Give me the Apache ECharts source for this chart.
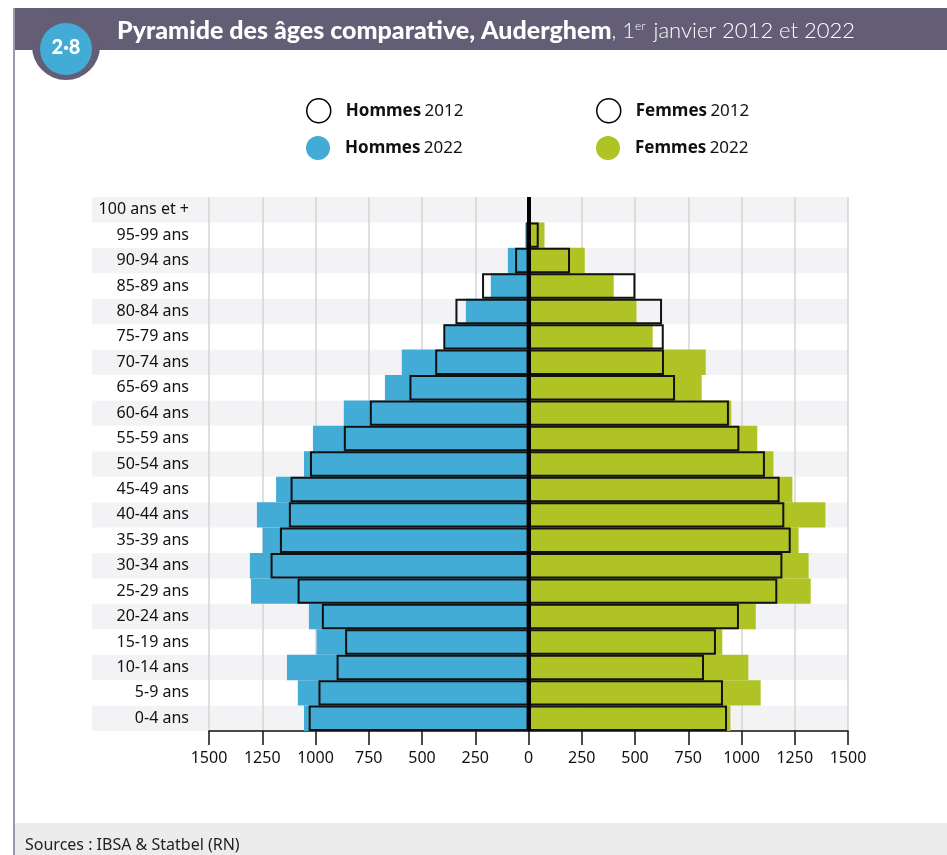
<!DOCTYPE html>
<html>
<head>
<meta charset="utf-8">
<script src="https://cdn.jsdelivr.net/npm/echarts@6/dist/echarts.min.js"></script>
<style>
  html, body { margin: 0; padding: 0; background: #fff; }
  #main { width: 947px; height: 855px; }
</style>
</head>
<body>
<div id="main"></div>
<script>
// tranches d'âge, du bas vers le haut
var ages = ['0-4 ans', '5-9 ans', '10-14 ans', '15-19 ans', '20-24 ans', '25-29 ans', '30-34 ans',
  '35-39 ans', '40-44 ans', '45-49 ans', '50-54 ans', '55-59 ans', '60-64 ans', '65-69 ans',
  '70-74 ans', '75-79 ans', '80-84 ans', '85-89 ans', '90-94 ans', '95-99 ans', '100 ans et +'];

var hommes2022 = [1054, 1083, 1134, 995, 1031, 1303, 1308, 1248, 1275, 1185, 1054, 1012, 867, 674, 595, 396, 294, 177, 97, 15, 2];
var hommes2012 = [1032, 986, 901, 861, 970, 1084, 1211, 1167, 1125, 1117, 1026, 867, 745, 559, 438, 400, 343, 218, 63, 10, 1];
var femmes2022 = [948, 1090, 1032, 910, 1067, 1325, 1315, 1268, 1394, 1239, 1150, 1074, 952, 813, 832, 583, 507, 400, 264, 75, 9];
var femmes2012 = [932, 913, 824, 880, 988, 1168, 1192, 1231, 1201, 1179, 1110, 990, 941, 688, 636, 635, 627, 502, 195, 48, 7];

var xTicks = { min: -1500, max: 1500, interval: 250 };

var font = 'Noto Sans';
var myChart = echarts.init(document.getElementById('main'));

function legendItem(name, left, top, outline, color) {
  return {
    left: left,
    top: top,
    padding: 0,
    itemWidth: 24,
    itemHeight: 24,
    selectedMode: false,
    data: [{
      name: name,
      icon: 'circle',
      itemStyle: outline ? { color: '#fff', borderColor: '#000', borderWidth: 1.5 } : { color: color, borderWidth: 0 }
    }],
    formatter: function (n) {
      var p = n.split(' ');
      return '{b|' + p[0] + '} {n|' + p[1] + '}';
    },
    textStyle: {
      rich: {
        b: { fontFamily: font, fontWeight: 'bold', fontSize: 17, color: '#111', padding: [0, 0, 0, 10] },
        n: { fontFamily: font, fontSize: 17, color: '#111' }
      }
    }
  };
}

var option = {
  animation: false,
  backgroundColor: '#fff',
  legend: [
    legendItem('Hommes 2012', 306, 98, true),
    legendItem('Femmes 2012', 596, 98, true),
    legendItem('Hommes 2022', 306, 136, false, '#42acd6'),
    legendItem('Femmes 2022', 596, 136, false, '#afc424')
  ],
  grid: [
    // fond rayé, labels compris
    { left: 92, right: 99, top: 197, bottom: 124 },
    { left: 209, right: 99, top: 197, bottom: 124 }
  ],
  xAxis: [
    { gridIndex: 0, type: 'value', min: 0, max: 1, show: false },
    {
      gridIndex: 1,
      type: 'value',
      min: xTicks.min,
      max: xTicks.max,
      interval: xTicks.interval,
      axisLine: { show: true, lineStyle: { color: '#111', width: 1.5 } },
      axisTick: { show: true, length: 14, lineStyle: { color: '#111', width: 1.5 } },
      axisLabel: {
        fontFamily: font, fontSize: 16, color: '#111', margin: 19,
        formatter: function (v) { return Math.abs(v); }
      },
      splitLine: { show: true, lineStyle: { color: '#d4d4d4', width: 1.5 } }
    }
  ],
  yAxis: [
    {
      gridIndex: 0, type: 'category', data: ages, z: 0,
      axisLine: { show: false }, axisTick: { show: false }, axisLabel: { show: false },
      splitLine: { show: false },
      splitArea: { show: true, areaStyle: { color: ['#f3f3f5', '#ffffff'] } }
    },
    {
      gridIndex: 1, type: 'category', data: ages,
      axisLine: { show: false }, axisTick: { show: false },
      axisLabel: { fontFamily: font, fontSize: 16, color: '#111', margin: 20 },
      splitLine: { show: false }
    }
  ],
  series: [
    {
      name: 'Hommes 2022', type: 'bar', xAxisIndex: 1, yAxisIndex: 1,
      data: hommes2022.map(function (v) { return -v; }),
      barGap: '-100%', barCategoryGap: '0%',
      itemStyle: { color: '#42acd6' }
    },
    {
      name: 'Femmes 2022', type: 'bar', xAxisIndex: 1, yAxisIndex: 1,
      data: femmes2022,
      barGap: '-100%', barCategoryGap: '0%',
      itemStyle: { color: '#afc424' }
    },
    {
      name: 'Hommes 2012', type: 'bar', xAxisIndex: 1, yAxisIndex: 1,
      data: hommes2012.map(function (v) { return -v; }),
      barGap: '-100%', barCategoryGap: '0%',
      itemStyle: { color: 'rgba(0,0,0,0)', borderColor: '#111', borderWidth: 2 }
    },
    {
      name: 'Femmes 2012', type: 'bar', xAxisIndex: 1, yAxisIndex: 1,
      data: femmes2012,
      barGap: '-100%', barCategoryGap: '0%',
      itemStyle: { color: 'rgba(0,0,0,0)', borderColor: '#111', borderWidth: 2 },
      markLine: {
        silent: true,
        symbol: 'none',
        label: { show: false },
        lineStyle: { color: '#000', width: 4, type: 'solid' },
        data: [{ xAxis: 0 }]
      }
    }
  ],
  graphic: [
    // bandeau du titre
    { type: 'rect', shape: { x: 13, y: 8, width: 934, height: 42 }, style: { fill: '#635e75' } },
    { type: 'line', shape: { x1: 14, y1: 8, x2: 14, y2: 855 }, style: { stroke: '#9c99aa', lineWidth: 2 } },
    { type: 'circle', shape: { cx: 66, cy: 46, r: 34 }, style: { fill: '#635e75' } },
    { type: 'circle', shape: { cx: 66, cy: 49, r: 26 }, style: { fill: '#42acd6' } },
    {
      type: 'text', x: 66, y: 48,
      style: {
        text: '2·8', fill: '#fff', fontFamily: 'Lato', fontWeight: 900, fontSize: 20,
        align: 'center', verticalAlign: 'middle'
      }
    },
    {
      type: 'text', x: 117, y: 31,
      style: {
        text: '{b|Pyramide des âges comparative, Auderghem}{l|, 1}{s|er}{l| janvier 2012 et 2022}',
        verticalAlign: 'middle',
        rich: {
          b: { fontFamily: 'Lato', fontWeight: 900, fontSize: 25, fill: '#fff' },
          l: { fontFamily: 'Lato', fontWeight: 300, fontSize: 22, fill: '#fff' },
          s: { fontFamily: 'Lato', fontWeight: 300, fontSize: 12, fill: '#fff', padding: [0, 2, 10, 0] }
        }
      }
    },
    // pied de page
    { type: 'rect', shape: { x: 15, y: 823, width: 932, height: 32 }, style: { fill: '#ececec' } },
    {
      type: 'text', x: 25, y: 845,
      style: { text: 'Sources : IBSA & Statbel (RN)', fill: '#222', fontFamily: font, fontSize: 16, verticalAlign: 'middle' }
    }
  ]
};

myChart.setOption(option);
</script>
</body>
</html>
